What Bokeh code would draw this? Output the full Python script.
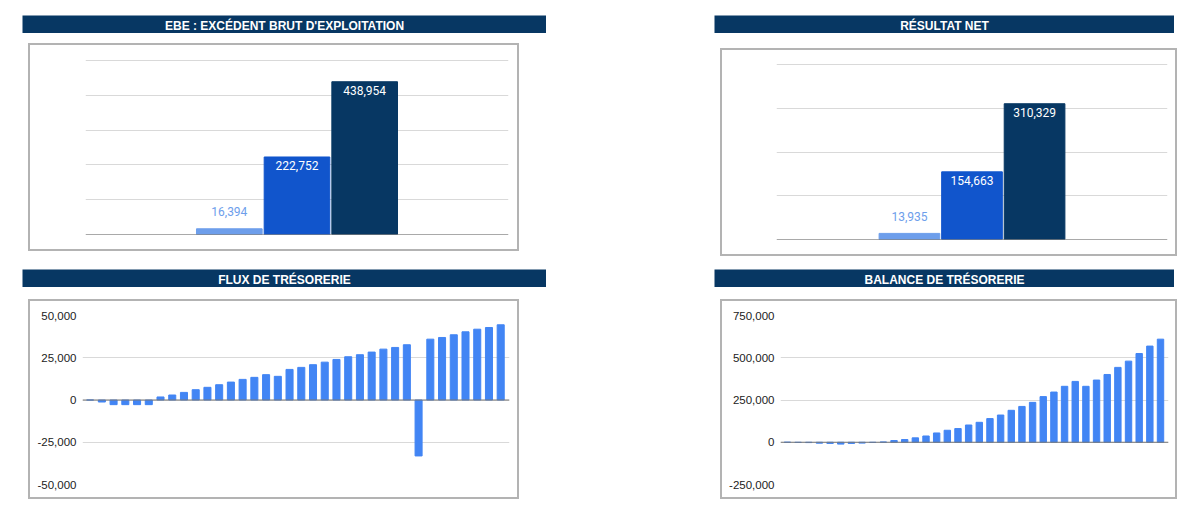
from bokeh.plotting import figure
from bokeh.layouts import row, column
from bokeh.models import Spacer, Range1d, FixedTicker, NumeralTickFormatter, Span, ColumnDataSource
from bokeh.core.properties import value
from bokeh.embed import file_html
from bokeh.resources import INLINE

# ---------------- data ----------------
series_names = ["Année 1", "Année 2", "Année 3"]
series_colors = ["#6d9eeb", "#1155cc", "#073763"]
ebe_values = [16394, 222752, 438954]
net_values = [13935, 154663, 310329]
ebe_ticks = [0, 100000, 200000, 300000, 400000, 500000]
net_ticks = [0, 100000, 200000, 300000, 400000]

months = ["M%d" % (i + 1) for i in range(36)]
flux_values = [0, -1200, -2750, -2750, -2750, -2750, 1800, 2950, 4500, 6100,
               7500, 9050, 10600, 12200, 13400, 15000, 14000, 18100, 19300, 20900,
               22400, 24000, 25600, 26800, 28350, 30100, 31100, 32700, -33100, 36000,
               37000, 38600, 40350, 41900, 42900, 44500]
balance_values = [0, -1500, -2000, -5500, -7000, -11000, -7000, -5000, -1500, 1500,
                  10000, 16000, 26000, 37000, 55000, 71000, 81000, 102000, 118000, 140000,
                  161000, 189000, 212000, 236000, 270000, 297000, 331000, 360000, 331000, 368000,
                  401000, 443000, 480000, 525000, 569000, 610000]
flux_ticks = [-50000, -25000, 0, 25000, 50000]
balance_ticks = [-250000, 0, 250000, 500000, 750000]

titles = ["EBE : EXCÉDENT BRUT D'EXPLOITATION", "RÉSULTAT NET",
          "FLUX DE TRÉSORERIE", "BALANCE DE TRÉSORERIE"]

NAVY = "#073763"
BAR_BLUE = "#4285f4"
GRID = "#d9d9d9"
BOX = "2px solid #b3b3b3"


def title_bar(text, w):
    p = figure(width=w, height=18, x_range=Range1d(0, 1), y_range=Range1d(0, 1),
               toolbar_location=None, output_backend="svg", min_border=0,
               background_fill_color=NAVY, border_fill_color=NAVY, outline_line_color=None)
    p.axis.visible = False
    p.grid.visible = False
    p.text(x=[0.5], y=[0.5], text=[text], text_align="center", text_baseline="middle",
           text_color="white", text_font=value("Liberation Sans"), text_font_style="bold",
           text_font_size=value("12px"), y_offset=1)
    return p


def top_chart(vals, ticks, w, h, bl, br, bt, bb):
    n = len(vals)
    xs = list(range(n))
    ymax = ticks[-1]
    inside = [v > 0.15 * ymax for v in vals]
    src = ColumnDataSource(dict(
        x=xs, top=vals, color=series_colors[:n],
        label=["{:,}".format(v) for v in vals],
        tc=["white" if ins else c for ins, c in zip(inside, series_colors)],
        off=[9 if ins else -17 for ins in inside],
    ))
    half = 3.125
    frame_h = h - bt - bb
    p = figure(width=w, height=h, x_range=Range1d((n - 1) / 2 - half, (n - 1) / 2 + half),
               y_range=Range1d(0, ymax + ymax / (frame_h - 1)), toolbar_location=None,
               output_backend="svg",
               min_border_left=bl, min_border_right=br, min_border_top=bt - 1, min_border_bottom=bb,
               outline_line_color=None, background_fill_color="white", border_fill_color="white")
    p.styles = {"outline": BOX}
    p.vbar(x="x", top="top", bottom=0, width=0.97, color="color", source=src)
    p.text(x="x", y="top", text="label", text_color="tc", y_offset="off", source=src,
           text_align="center", text_baseline="middle",
           text_font=value("Roboto"), text_font_size=value("12px"))
    p.xaxis.visible = False
    p.yaxis.visible = False
    p.xgrid.visible = False
    p.ygrid.ticker = FixedTicker(ticks=ticks)
    p.ygrid.grid_line_color = GRID
    p.add_layout(Span(location=0, dimension="width", line_color="#555555", line_width=1))
    return p


def bottom_chart(vals, ticks, w, h, bl, br, bt, bb):
    xs = list(range(len(vals)))
    src = ColumnDataSource(dict(x=xs, top=vals, month=months[:len(vals)]))
    p = figure(width=w, height=h, x_range=Range1d(-0.65, len(vals) - 0.25),
               y_range=Range1d(ticks[0], ticks[-1]), toolbar_location=None, output_backend="svg",
               min_border_left=bl, min_border_right=br, min_border_top=bt, min_border_bottom=bb,
               outline_line_color=None, background_fill_color="white", border_fill_color="white")
    p.styles = {"outline": BOX}
    p.vbar(x="x", top="top", bottom=0, width=0.6, color=BAR_BLUE, source=src)
    p.xaxis.visible = False
    p.xgrid.visible = False
    tk = FixedTicker(ticks=ticks)
    p.yaxis.ticker = tk
    p.ygrid.ticker = tk
    p.ygrid.grid_line_color = GRID
    p.yaxis.formatter = NumeralTickFormatter(format="0,0")
    p.yaxis.axis_line_color = None
    p.yaxis.major_tick_line_color = None
    p.yaxis.minor_tick_line_color = None
    p.yaxis.major_tick_out = 0
    p.yaxis.major_tick_in = 0
    p.yaxis.major_label_standoff = 6
    p.yaxis.major_label_text_font = "Liberation Sans"
    p.yaxis.major_label_text_font_size = "11.5px"
    p.yaxis.major_label_text_color = "#222222"
    p.add_layout(Span(location=0, dimension="width", line_color="#777777", line_width=1))
    return p


tl = top_chart(ebe_values, ebe_ticks, 487, 204, 55, 9, 15, 15)
tr = top_chart(net_values, net_ticks, 453, 204, 54, 8, 14, 15)
bl = bottom_chart(flux_values, flux_ticks, 487, 196, 52, 8, 14, 13)
br = bottom_chart(balance_values, balance_ticks, 453, 196, 58, 7, 14, 13)

left_col = column(
    Spacer(height=15),
    title_bar(titles[0], 524),
    Spacer(height=12),
    row(Spacer(width=8), tl),
    Spacer(height=20),
    title_bar(titles[2], 524),
    Spacer(height=14),
    row(Spacer(width=8), bl),
)
right_col = column(
    Spacer(height=15),
    title_bar(titles[1], 460),
    Spacer(height=17),
    row(Spacer(width=8), tr),
    Spacer(height=15),
    title_bar(titles[3], 460),
    Spacer(height=14),
    row(Spacer(width=8), br),
)
layout = row(Spacer(width=22), left_col, Spacer(width=168), right_col)

open("out.html", "w").write(file_html(layout, INLINE))
